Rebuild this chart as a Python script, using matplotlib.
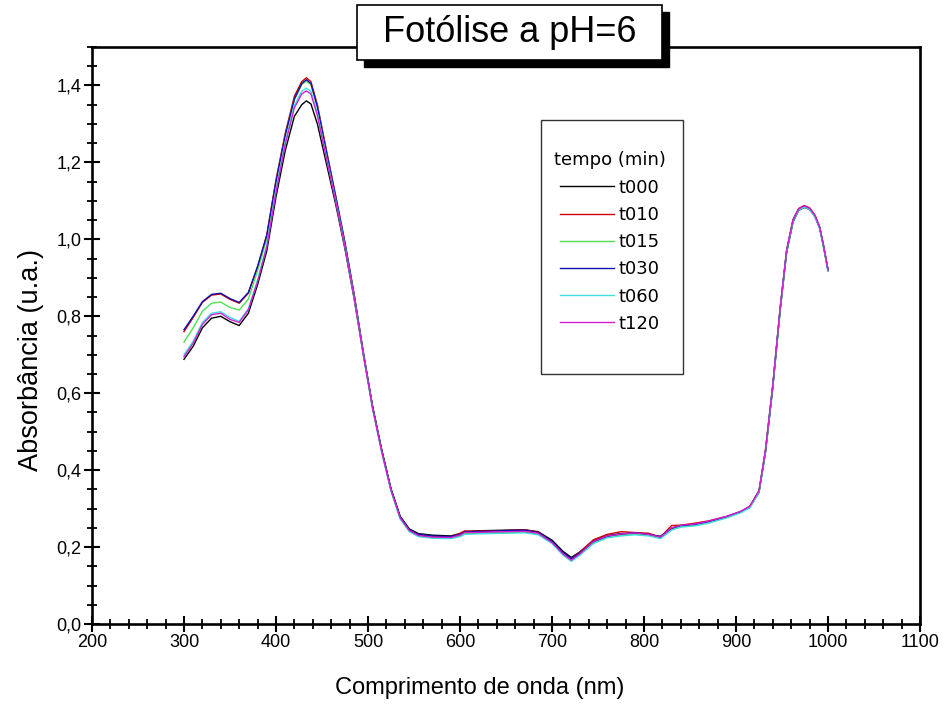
import matplotlib
matplotlib.use("Agg")
import matplotlib.pyplot as plt
from matplotlib import font_manager
from matplotlib.patches import Rectangle
from matplotlib.ticker import MultipleLocator

# wavelength grid (nm)
wl = [300, 310, 320, 330, 340, 350, 360, 370, 380, 390, 400, 410, 420, 428, 433, 438, 445,
      455, 465, 475, 485, 495, 505, 515, 525, 535, 545, 555, 570, 590,
      600, 605, 615, 630, 650, 670, 685, 700, 712, 721,
      730, 745, 760, 775, 790, 805, 818, 830, 840, 855,
      870, 890, 905, 915, 925, 932, 940, 948, 955, 962,
      968, 974, 980, 986, 991, 995, 1000]

t000 = [0.688, 0.722, 0.770, 0.795, 0.800, 0.786, 0.776, 0.808, 0.882, 0.970, 1.110, 1.230, 1.320, 1.350, 1.360, 1.352, 1.300,
        1.195, 1.090, 0.975, 0.845, 0.700, 0.565, 0.452, 0.352, 0.280, 0.247, 0.235, 0.231, 0.229,
        0.235, 0.240, 0.242, 0.243, 0.244, 0.245, 0.240, 0.218, 0.189, 0.173,
        0.187, 0.217, 0.230, 0.235, 0.236, 0.232, 0.228, 0.248, 0.255, 0.258,
        0.265, 0.278, 0.291, 0.304, 0.342, 0.445, 0.615, 0.815, 0.965, 1.045,
        1.075, 1.083, 1.078, 1.058, 1.028, 0.982, 0.918]
t010 = [0.760, 0.797, 0.836, 0.855, 0.858, 0.844, 0.834, 0.860, 0.928, 1.012, 1.155, 1.275, 1.372, 1.410, 1.420, 1.410, 1.350,
        1.230, 1.112, 0.992, 0.857, 0.706, 0.566, 0.451, 0.350, 0.277, 0.244, 0.231, 0.227, 0.226,
        0.236, 0.242, 0.241, 0.242, 0.243, 0.245, 0.239, 0.214, 0.185, 0.170,
        0.186, 0.219, 0.233, 0.240, 0.238, 0.236, 0.226, 0.256, 0.257, 0.262,
        0.268, 0.280, 0.292, 0.306, 0.347, 0.452, 0.622, 0.822, 0.972, 1.052,
        1.080, 1.088, 1.082, 1.062, 1.032, 0.986, 0.921]
t015 = [0.733, 0.770, 0.813, 0.834, 0.837, 0.823, 0.816, 0.845, 0.918, 1.002, 1.148, 1.268, 1.363, 1.402, 1.412, 1.402, 1.344,
        1.224, 1.108, 0.988, 0.853, 0.703, 0.562, 0.447, 0.347, 0.274, 0.241, 0.229, 0.225, 0.224,
        0.229, 0.235, 0.236, 0.237, 0.238, 0.239, 0.234, 0.211, 0.181, 0.166,
        0.180, 0.211, 0.226, 0.231, 0.234, 0.231, 0.224, 0.246, 0.253, 0.256,
        0.264, 0.277, 0.290, 0.303, 0.344, 0.449, 0.619, 0.819, 0.969, 1.049,
        1.077, 1.085, 1.079, 1.059, 1.029, 0.984, 0.919]
t030 = [0.765, 0.800, 0.838, 0.857, 0.860, 0.846, 0.836, 0.862, 0.930, 1.010, 1.150, 1.270, 1.365, 1.405, 1.415, 1.405, 1.345,
        1.225, 1.110, 0.990, 0.855, 0.705, 0.565, 0.450, 0.350, 0.278, 0.245, 0.233, 0.229, 0.227,
        0.233, 0.239, 0.240, 0.241, 0.243, 0.244, 0.238, 0.215, 0.186, 0.170,
        0.184, 0.214, 0.228, 0.234, 0.237, 0.233, 0.227, 0.249, 0.256, 0.259,
        0.266, 0.279, 0.292, 0.305, 0.345, 0.450, 0.620, 0.820, 0.970, 1.050,
        1.078, 1.086, 1.080, 1.060, 1.030, 0.985, 0.920]
t060 = [0.700, 0.735, 0.784, 0.808, 0.812, 0.797, 0.787, 0.820, 0.895, 0.985, 1.128, 1.252, 1.348, 1.385, 1.393, 1.385, 1.328,
        1.212, 1.100, 0.982, 0.849, 0.700, 0.560, 0.446, 0.346, 0.273, 0.240, 0.227, 0.223, 0.222,
        0.227, 0.233, 0.234, 0.235, 0.236, 0.237, 0.232, 0.209, 0.179, 0.163,
        0.178, 0.209, 0.224, 0.229, 0.232, 0.229, 0.222, 0.244, 0.252, 0.255,
        0.262, 0.276, 0.289, 0.302, 0.343, 0.448, 0.618, 0.818, 0.968, 1.048,
        1.076, 1.084, 1.078, 1.058, 1.028, 0.983, 0.917]
t120 = [0.695, 0.730, 0.779, 0.804, 0.808, 0.792, 0.784, 0.817, 0.890, 0.980, 1.122, 1.246, 1.342, 1.378, 1.386, 1.378, 1.322,
        1.208, 1.098, 0.980, 0.848, 0.699, 0.560, 0.447, 0.348, 0.276, 0.243, 0.230, 0.226, 0.225,
        0.231, 0.238, 0.238, 0.239, 0.240, 0.241, 0.236, 0.212, 0.182, 0.166,
        0.182, 0.215, 0.229, 0.234, 0.237, 0.233, 0.226, 0.250, 0.257, 0.260,
        0.267, 0.280, 0.293, 0.306, 0.346, 0.451, 0.621, 0.821, 0.971, 1.051,
        1.079, 1.087, 1.081, 1.061, 1.031, 0.985, 0.920]

series = [t000, t010, t015, t030, t060, t120]
labels = ['t000', 't010', 't015', 't030', 't060', 't120']
colors = ['#000000', '#d00000', '#50e050', '#1010b0', '#40e0e0', '#d020d0']

xticks = [200, 300, 400, 500, 600, 700, 800, 900, 1000, 1100]
yticks = [0.0, 0.2, 0.4, 0.6, 0.8, 1.0, 1.2, 1.4]
ytick_labels = ['0,0', '0,2', '0,4', '0,6', '0,8', '1,0', '1,2', '1,4']

plt.rcParams['font.family'] = ['Liberation Sans', 'DejaVu Sans']

# tick labels in the original use a condensed face
installed = {f.name for f in font_manager.fontManager.ttflist}
tick_font = 'Liberation Sans Narrow' if 'Liberation Sans Narrow' in installed else 'Liberation Sans'

fig = plt.figure(figsize=(9.53, 7.04), dpi=100)
ax = fig.add_axes([0.0965, 0.1136, 0.8689, 0.8196])

for y, lab, c in zip(series, labels, colors):
    ax.plot(wl, y, color=c, lw=1.0, label=lab)

ax.set_xlim(200, 1100)
ax.set_ylim(0, 1.5)
ax.set_xticks(xticks)
ax.set_yticks(yticks)
ax.set_yticklabels(ytick_labels)
ax.xaxis.set_minor_locator(MultipleLocator(20))
ax.yaxis.set_minor_locator(MultipleLocator(0.05))
ax.tick_params(which='major', direction='inout', length=11, width=1.5,
               labelsize=13, pad=2, top=False, right=False)
ax.tick_params(which='minor', direction='inout', length=7.5, width=1.3,
               top=False, right=False)
for t in ax.get_xticklabels() + ax.get_yticklabels():
    t.set_family(tick_font)
for s in ax.spines.values():
    s.set_linewidth(1.9)

ax.set_xlabel('Comprimento de onda (nm)', fontsize=17)
ax.set_ylabel('Absorbância (u.a.)', fontsize=19.5)
ax.xaxis.set_label_coords(0.4686, -0.092)
ax.yaxis.set_label_coords(-0.058, 0.4575)

leg = ax.legend(title='tempo (min)', loc='upper left', bbox_to_anchor=(0.558, 0.819),
                borderaxespad=0, borderpad=0, frameon=False,
                prop={'family': 'DejaVu Sans', 'size': 13},
                title_fontproperties={'family': 'DejaVu Sans', 'size': 13},
                handlelength=2.95, handletextpad=0.28, labelspacing=0.51)
leg.set_zorder(6)
ax.add_patch(Rectangle((0.542, 0.4333), 0.1715, 0.4402, transform=ax.transAxes,
                       facecolor='white', edgecolor='#333333', lw=1.0, zorder=5.5))

# title box with drop shadow
bx, by, bw, bh = 0.3746, 0.9148, 0.3200, 0.0781
fig.add_artist(Rectangle((bx + 0.007, by - 0.010), bw, bh, transform=fig.transFigure,
                         facecolor='black', edgecolor='black', zorder=5))
fig.add_artist(Rectangle((bx, by), bw, bh, transform=fig.transFigure,
                         facecolor='white', edgecolor='black', lw=1.2, zorder=6))
fig.text(bx + bw / 2, by + bh / 2, 'Fotólise a pH=6', ha='center', va='center',
         fontsize=26, zorder=7)

fig.savefig('out.png', dpi=100)
